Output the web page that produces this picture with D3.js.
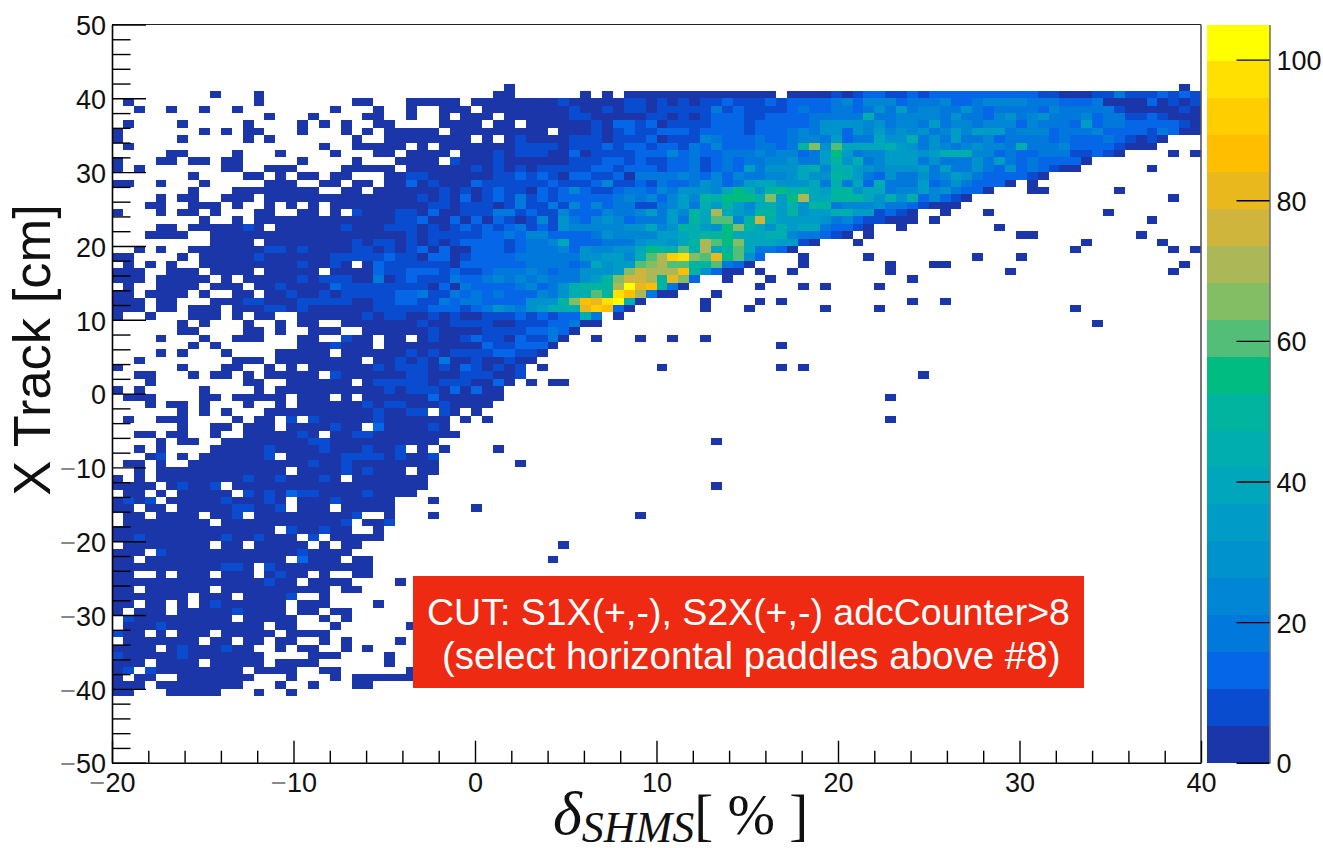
<!DOCTYPE html>
<html>
<head>
<meta charset="utf-8">
<script src="https://cdnjs.cloudflare.com/ajax/libs/d3/7.8.5/d3.min.js"></script>
<style>
html, body { margin: 0; padding: 0; background: #fff; }
text { font-family: "Liberation Sans", Arial, sans-serif; }
</style>
</head>
<body>
<div id="wrapper"></div>
<script>
// colour bands of the z axis, bottom to top
const palette = [
    "#1a36a8", "#0a4ccf", "#0566e8", "#0078dc", "#0086d4",
    "#0092cc", "#009cc8", "#00a6bc", "#00aeb0", "#00b4a0",
    "#00bc80", "#52be78", "#84be64", "#acb858", "#cfb53c",
    "#e8b81c", "#ffbf00", "#ffce00", "#ffe000", "#ffff00"
];

const xBins = 100;
const topRow = 41;
const segStart = [0, 27, 54, 82];
const bandChars = "0123456789abcdefghij";

// histogram, one string per y bin from y=41 down to y=-41
// char = colour band of the bin, "." = empty, "|" = jump to column 27, 54, 82
const rows = [
    "|.........0||................0",
    ".........0...0|........00......0.0.0000000|0000000.00001012211212222222|222110001131112121",
    ".0...........0........00|00000.000000001000001101010|1121112122223424442333422344|443332223000020101",
    "..0..0..0..0........0...0|0..000.00000000100101101111|1312111123223323536344335323|333243333310000010",
    "..............0...0....00|0..0.000.000000110000011010|1222112222333338334444353324|534533342331121000",
    ".0....0.....0....0.0.0..00|...0000.00.0000001022120111|1222122222355554534436344344|424333262332222210",
    "0.......0.0.00...0...0.0.00|000.000000000.0001012112221|2222122234355254645453464666|344423334222213200",
    "0.....0.....0.0.......0..00|000000.0.010000111011120111|4322232234436233755835363342|333323222321010",
    ".0.................0..00000|.0.000000011110111212212213|2422233239c5b777786535434544|38333422221000",
    ".....00....0...0....0...00|0000.0001011100201111222423|223334344236a634466656888442|32233311210....0.0",
    "0...00.00.00.....0....0...0|000.10001000000111221211223|1232334453369583466635333536|32322220",
    "0.0.......00..000....00000.|000000101010111112212221223|1232635557848865455563633532|5232100......0",
    ".......0....00.0.00.00...00|110000001121210221120333343|2424334457559863253353465322|2210",
    "00..0...0.....000..00.00.00|201000211111121112411213223|5423677555738372833362353222|0.0",
    ".......0...00000000..00.000|000101012110212421123324355|547a859a8976995773446453220.|..00......0",
    "....0.00..000.0000000000000|010102012131212222234342464|98aaa8c6ad779997585824210|...............0",
    "...00..000.0..0.0.0.0000000|001101110131131424233113463|869647868599344453321000",
    "0...0.00.0...00..00.0.10001|102001113312114222433463649|7d765996956688661210..0...0|.........0",
    "........0..0.00000000000001|120020202101415324542333639|7bb49e86666534211000.0|.............0",
    "....00.0000010.000000100011|101012121231215444445574598|65ac975867732210..0........0",
    "...0000..000000000000000000|101111122324422223544446678|99a77788433210.0|.00.........0",
    ".........0000.0000000010110|101012222123347222333566579|dbac7776610...0|.......0......0",
    "..0.0..00000001101000011010|1202002221233342544557a98b8|d79b73320|......0........0.0",
    "00....0.0000010000001111121|1022012222333333556648bdhic|bfab52...0.....0.........0|.0",
    ".0.0.0..00000000010010.0211|111102222223333237566bcdbb9|9b320....0.......0...00|................0",
    "000..000.0000.00000.0000211|22212112333432335556cedddg9|5200.0..0........0|0..............0",
    "000.00000.0.000001011100301|2111322343434333569ceed9fc2|..0...0............0",
    ".0..0000.000.00100002111111|1102032222342358999djfg930.|.....0...0.0....0",
    "00.0000.0..00.0010010111112|23113232322243588b9igd300..|.0",
    "000.00...000110001111100112|211323322225559cgfij80.....|0....0.0...........0..0",
    "000.00.000.0001101000000111|1122212354356888fhg20......|0...0......0....0|......0",
    "0..0...000.0.00..0000001011|001010011121212283.0",
    "......0.0...0..0.00..000000|010011110011122300||........0",
    "......00....00.0..000..0000|0010000111122320",
    "....0...0..000...00..100.00|.01001211021130..0...0..0|0",
    ".......0.0.......0001000.00|00000002112220|.......0",
    "....0.0...0....00000.000000|1010111122110",
    "..0........000.00000000.001|010300100100",
    "0.....0...00..0.0.000000101|11010210101.0..........0|.......0.0",
    "..00...0.00.0.00000.1000000|11000111001|....................0",
    "...0........00..000000.0111|1101110020.0.00",
    "0.0.....0....0.000000000010|111020200",
    ".000....00.00000.000.0.0000|002000000|.................0",
    "...0.00.0...0..0.0000001011|00010000",
    "......0.0.0...0000000000100|11.10.0",
    ".0..000....0.00.1.100000100|0000.0.0|.................0",
    "......0..00.000.0000100.200|0010",
    "..00.00..0..0000010.0011000|00000",
    "....0.00..00000000110000000|000|.0",
    "..0.0....000001000010001001|.0.0....0",
    "...01.0.0000001.00000111101|001",
    ".00.0..00000000000100100000|000.......0",
    "..0.000000000000.0000101000|.00",
    "0.0.00000000100100010.00000|00",
    "0000.01001.0000000000000000|00|.0",
    ".00.0.00000.101021100001000|0",
    "0101.00000100010.000100000.|..0",
    "00.00.0000011001.000.00000.|......0",
    ".00.0000.001.0000000001..0.|..0..................0",
    ".00000000.000000000001.001.",
    "000000000000000.100100..0",
    "00100000001001000.1.00000",
    ".00000000.00.00000.0.00|..............0",
    "000.100000000000010000",
    "00.0000000000000.2000.00|.............0",
    "0000000000110.1000000000",
    "00..0.000.000.0100.0..00",
    "00000000000000100.0000....0",
    "00.000000.0000000000.00",
    "0000000.000.00001..0",
    "00.00.0.01000000.000....0",
    "0.000.0000010000.00.00",
    ".1000000000.00000..0.0",
    ".0001000000000.00...0......|0",
    "100.0.000.00000.0000",
    ".0000000.00.00.00..0.0....0",
    "0000.01000100..0.00..0.0",
    "10000010000000....000....0",
    "000.0000.00000.0000......0",
    "01.100000000.0000..00......|0",
    "0.00..0000000...0...0.00000|0",
    "000.00000000...0..0...00",
    "00...00000...0..0"
];

const xMajor = [-20, -10, 0, 10, 20, 30, 40];
const xMinor = [-18, -16, -14, -12, -8, -6, -4, -2, 2, 4, 6, 8, 12, 14, 16, 18, 22, 24, 26, 28, 32, 34, 36, 38];
const yMajor = [-50, -40, -30, -20, -10, 0, 10, 20, 30, 40, 50];
const yMinor = [-48, -46, -44, -42, -38, -36, -34, -32, -28, -26, -24, -22, -18, -16, -14, -12, -8, -6, -4, -2,
    2, 4, 6, 8, 12, 14, 16, 18, 22, 24, 26, 28, 32, 34, 36, 38, 42, 44, 46, 48];
const zTicks = [0, 20, 40, 60, 80, 100];
const zMax = 105;

let dimensions = {
    width: 1323,
    height: 848,
    left: 112,
    right: 1201,
    top: 24.5,
    bottom: 762.7,
    barLeft: 1207,
    barRight: 1269.5
};

const xScale = d3.scaleLinear().domain([-20, 40]).range([dimensions.left, dimensions.right]);
const yScale = d3.scaleLinear().domain([-50, 50]).range([dimensions.bottom, dimensions.top]);
const zScale = d3.scaleLinear().domain([0, zMax]).range([dimensions.bottom, dimensions.top]);
const color = d3.scaleQuantize().domain([0, zMax]).range(palette);

const bandWidth = zMax / palette.length;
const xBinWidth = 60 / xBins;

// unpack the strings to bins
let cells = [];
rows.forEach(function (row, r) {
    row.split("|").forEach(function (seg, s) {
        seg.split("").forEach(function (ch, i) {
            if (ch === ".") return;
            cells.push({
                x: -20 + (segStart[s] + i) * xBinWidth,
                y: topRow - r,
                count: (bandChars.indexOf(ch) + 0.5) * bandWidth
            });
        });
    });
});

let svg = d3.select("#wrapper")
    .append("svg")
    .attr("width", dimensions.width)
    .attr("height", dimensions.height)
    .style("display", "block");

svg.append("g")
    .selectAll("rect")
    .data(cells)
    .enter()
    .append("rect")
    .attr("x", d => xScale(d.x))
    .attr("y", d => yScale(d.y + 1))
    .attr("width", d => xScale(d.x + xBinWidth) - xScale(d.x))
    .attr("height", d => yScale(d.y) - yScale(d.y + 1))
    .attr("fill", d => color(d.count))
    .attr("shape-rendering", "crispEdges");

// frame top and right
svg.append("line")
    .attr("x1", dimensions.left).attr("x2", dimensions.right)
    .attr("y1", dimensions.top).attr("y2", dimensions.top)
    .attr("stroke", "#222").attr("stroke-width", 1.2);
svg.append("line")
    .attr("x1", dimensions.right).attr("x2", dimensions.right)
    .attr("y1", dimensions.top).attr("y2", dimensions.bottom)
    .attr("stroke", "#555").attr("stroke-width", 1.6);

function styleAxis(g) {
    g.selectAll("path").attr("stroke", "#000").attr("stroke-width", 1.6);
    g.selectAll("line").attr("stroke", "#000").attr("stroke-width", 1.4);
    g.selectAll("text")
        .attr("font-size", 27)
        .attr("fill", "#111")
        .each(function () {
            let t = d3.select(this);
            let s = t.text();
            if (s[0] === "\u2212") {
                t.text("");
                t.append("tspan").attr("fill", "#888").text("\u2212");
                t.append("tspan").text(s.slice(1));
            }
        });
}

// x axis
svg.append("g")
    .attr("transform", `translate(0,${dimensions.bottom})`)
    .call(d3.axisBottom(xScale).tickValues(xMinor).tickSize(-12).tickFormat(""))
    .call(g => g.select("path").remove())
    .call(styleAxis);
svg.append("g")
    .attr("transform", `translate(0,${dimensions.bottom})`)
    .call(d3.axisBottom(xScale).tickValues(xMajor).tickSize(-22).tickSizeOuter(0).tickPadding(10).tickFormat(d3.format("d")))
    .call(styleAxis)
    .call(g => g.selectAll("text").attr("dy", "0.71em"));

// y axis
svg.append("g")
    .attr("transform", `translate(${dimensions.left},0)`)
    .call(d3.axisLeft(yScale).tickValues(yMinor).tickSize(-18.5).tickFormat(""))
    .call(g => g.select("path").remove())
    .call(styleAxis);
svg.append("g")
    .attr("transform", `translate(${dimensions.left},0)`)
    .call(d3.axisLeft(yScale).tickValues(yMajor).tickSize(-34).tickSizeOuter(0).tickPadding(6).tickFormat(d3.format("d")))
    .call(styleAxis)
    .call(g => g.selectAll("text").attr("dy", "0.38em"));

// colour bar
svg.append("g")
    .selectAll("rect")
    .data(palette)
    .enter()
    .append("rect")
    .attr("x", dimensions.barLeft)
    .attr("width", dimensions.barRight - dimensions.barLeft)
    .attr("y", (d, i) => zScale((i + 1) * bandWidth))
    .attr("height", (d, i) => zScale(i * bandWidth) - zScale((i + 1) * bandWidth))
    .attr("fill", d => d)
    .attr("shape-rendering", "crispEdges");

svg.append("g")
    .attr("transform", `translate(${dimensions.barRight},0)`)
    .call(d3.axisRight(zScale).tickValues(zTicks).tickSize(-33).tickSizeOuter(0).tickPadding(7).tickFormat(d3.format("d")))
    .call(styleAxis)
    .call(g => g.select("path").attr("stroke", "#777"))
    .call(g => g.selectAll("text").attr("dy", "0.37em"));

// axis titles
svg.append("text")
    .attr("transform", "translate(50,350) rotate(-90)")
    .attr("text-anchor", "middle")
    .attr("font-size", 52.5)
    .attr("fill", "#111")
    .text("X Track [cm]");

let xTitle = svg.append("text")
    .attr("x", 553)
    .attr("y", 834)
    .attr("fill", "#111")
    .style("font-family", "'Liberation Serif', serif");
xTitle.append("tspan").attr("font-size", 62).attr("font-style", "italic").text("\u03b4");
xTitle.append("tspan").attr("font-size", 44).attr("font-style", "italic").attr("dy", 8).text("SHMS");
xTitle.append("tspan").attr("font-size", 57).attr("dy", -8).text("[ % ]");

// red note
svg.append("rect")
    .attr("x", 413)
    .attr("y", 576)
    .attr("width", 671)
    .attr("height", 112)
    .attr("fill", "#ee2a12");
svg.append("text")
    .attr("x", 427).attr("y", 625)
    .attr("font-size", 37.5).attr("fill", "#fff")
    .text("CUT: S1X(+,-), S2X(+,-) adcCounter>8");
svg.append("text")
    .attr("x", 442).attr("y", 669)
    .attr("font-size", 38.5).attr("fill", "#fff")
    .text("(select horizontal paddles above #8)");
</script>
</body>
</html>
